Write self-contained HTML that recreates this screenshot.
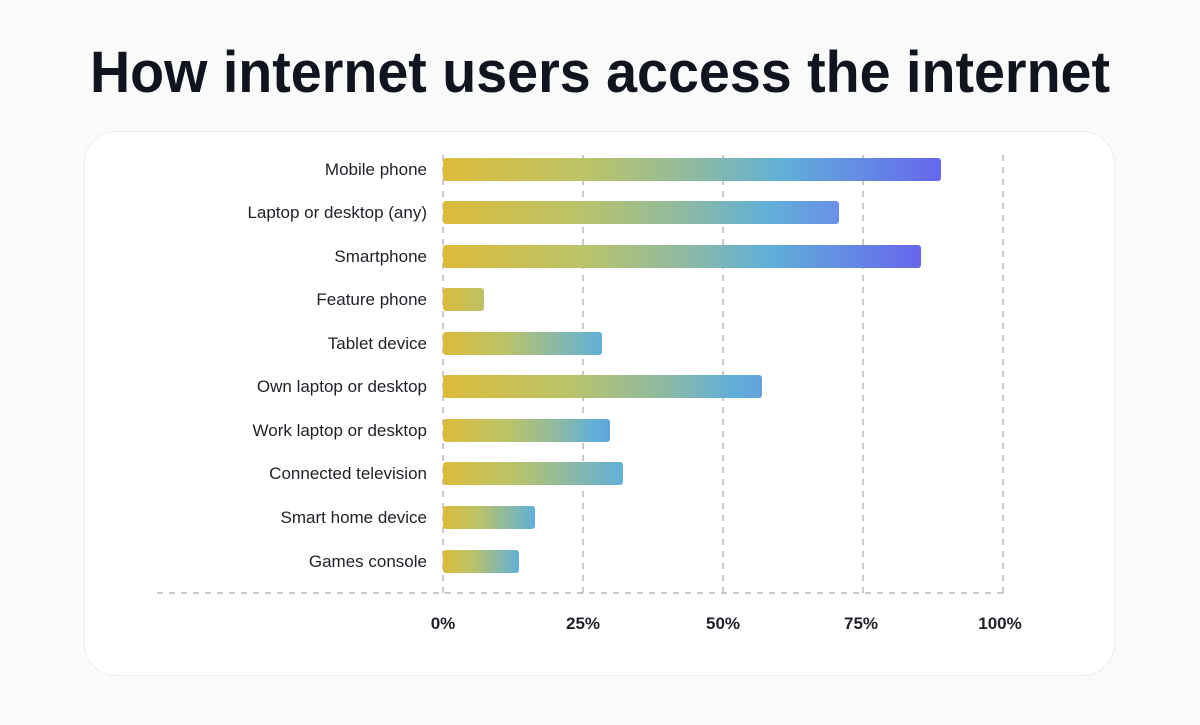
<!DOCTYPE html>
<html><head><meta charset="utf-8"><style>
html,body{margin:0;padding:0;background:#fafafa;}
svg{display:block;}
text{font-family:"Liberation Sans",sans-serif;}
</style></head><body>
<svg width="1200" height="725" viewBox="0 0 1200 725" xmlns="http://www.w3.org/2000/svg">
<defs>
<linearGradient id="gL" x1="0" x2="1"><stop offset="0" stop-color="#dcbb3a"/><stop offset="0.3" stop-color="#b9c36a"/><stop offset="0.5" stop-color="#90baa0"/><stop offset="0.68" stop-color="#60b0d8"/><stop offset="1" stop-color="#6766ee"/></linearGradient>
<linearGradient id="gM" x1="0" x2="1"><stop offset="0" stop-color="#dcbb3a"/><stop offset="0.35" stop-color="#b9c36a"/><stop offset="0.6" stop-color="#90baa0"/><stop offset="0.82" stop-color="#60b0d8"/><stop offset="1" stop-color="#6a90e6"/></linearGradient>
<linearGradient id="gO" x1="0" x2="1"><stop offset="0" stop-color="#dcbb3a"/><stop offset="0.4" stop-color="#b9c36a"/><stop offset="0.7" stop-color="#8cb9a4"/><stop offset="0.9" stop-color="#62b0d8"/><stop offset="1" stop-color="#62a2dc"/></linearGradient>
<linearGradient id="gS" x1="0" x2="1"><stop offset="0" stop-color="#dcbb3a"/><stop offset="0.4" stop-color="#b9c36a"/><stop offset="0.7" stop-color="#8cb9a4"/><stop offset="1" stop-color="#60b0d8"/></linearGradient>
<linearGradient id="gF" x1="0" x2="1"><stop offset="0" stop-color="#dcbb3a"/><stop offset="1" stop-color="#bcc268"/></linearGradient>
</defs>
<rect width="1200" height="725" fill="#fafafa"/>
<text x="600" y="92" text-anchor="middle" font-size="58" font-weight="bold" fill="#0f141e" textLength="1020" lengthAdjust="spacingAndGlyphs">How internet users access the internet</text>
<rect x="84.5" y="131.5" width="1030" height="544" rx="32" fill="#fff" stroke="#ececec"/>
<g stroke="#b8b8b8" stroke-width="1.5" stroke-dasharray="6,6">
<line x1="443" y1="155" x2="443" y2="593"/>
<line x1="583" y1="155" x2="583" y2="593"/>
<line x1="723" y1="155" x2="723" y2="593"/>
<line x1="863" y1="155" x2="863" y2="593"/>
<line x1="1003" y1="155" x2="1003" y2="593"/>
<line x1="157" y1="593" x2="1003" y2="593"/>
</g>
<g>
<rect x="443" y="158" width="498" height="23" rx="3" fill="url(#gL)"/>
<rect x="443" y="201" width="396" height="23" rx="3" fill="url(#gM)"/>
<rect x="443" y="245" width="478" height="23" rx="3" fill="url(#gL)"/>
<rect x="443" y="288" width="41" height="23" rx="3" fill="url(#gF)"/>
<rect x="443" y="332" width="159" height="23" rx="3" fill="url(#gS)"/>
<rect x="443" y="375" width="319" height="23" rx="3" fill="url(#gO)"/>
<rect x="443" y="419" width="167" height="23" rx="3" fill="url(#gO)"/>
<rect x="443" y="462" width="180" height="23" rx="3" fill="url(#gS)"/>
<rect x="443" y="506" width="92" height="23" rx="3" fill="url(#gS)"/>
<rect x="443" y="550" width="76" height="23" rx="3" fill="url(#gS)"/>
</g>
<g font-size="17" fill="#1e2128" text-anchor="end">
<text x="427" y="175">Mobile phone</text>
<text x="427" y="218">Laptop or desktop (any)</text>
<text x="427" y="262">Smartphone</text>
<text x="427" y="305">Feature phone</text>
<text x="427" y="349">Tablet device</text>
<text x="427" y="392">Own laptop or desktop</text>
<text x="427" y="436">Work laptop or desktop</text>
<text x="427" y="479">Connected television</text>
<text x="427" y="523">Smart home device</text>
<text x="427" y="567">Games console</text>
</g>
<g font-size="17" font-weight="bold" fill="#1e2128" text-anchor="middle">
<text x="443" y="629">0%</text>
<text x="583" y="629">25%</text>
<text x="723" y="629">50%</text>
<text x="861" y="629">75%</text>
<text x="1000" y="629">100%</text>
</g>
</svg>
</body></html>
